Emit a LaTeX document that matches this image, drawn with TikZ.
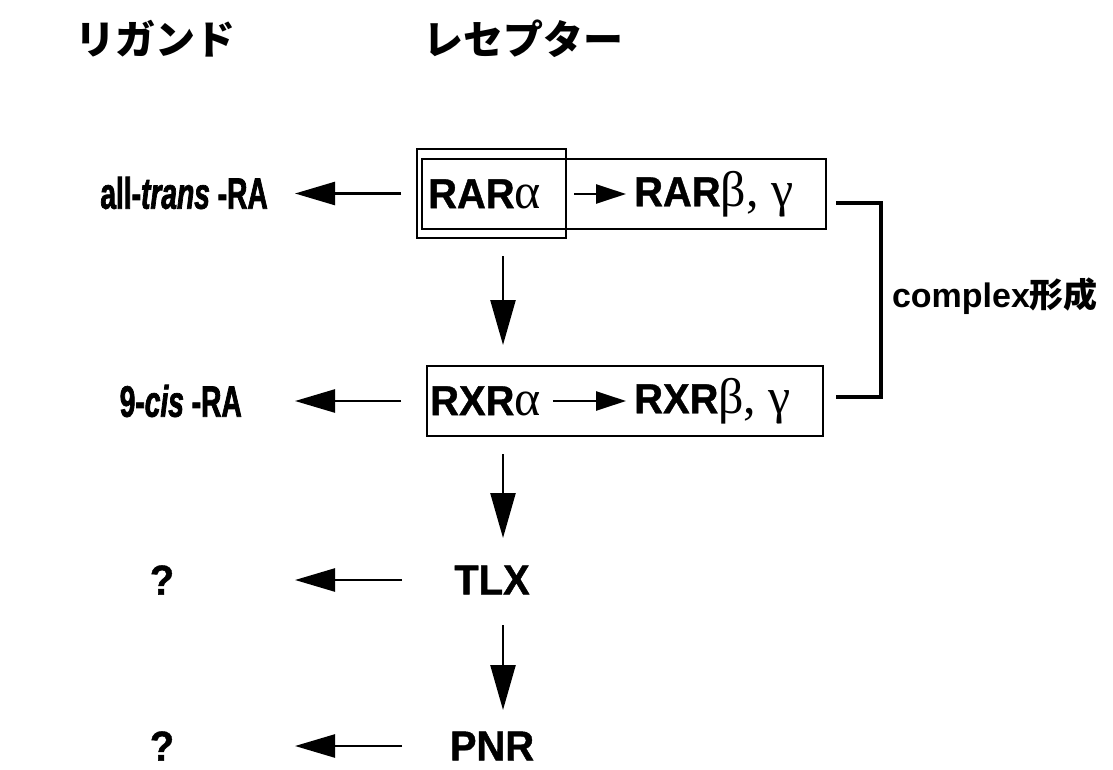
\documentclass[tikz,border=0pt]{standalone}
\usepackage{fontspec}
\setmainfont{Liberation Sans}
\newfontfamily\boxfont{Liberation Sans}[FakeStretch=0.95, FakeBold=1]
\newfontfamily\narrowfont{Liberation Sans}[FakeStretch=0.64, FakeBold=1.6]
\newfontfamily\grk{Liberation Serif}
\newfontfamily\jp{Noto Sans CJK JP}
\usetikzlibrary{arrows.meta}
\newcommand{\gk}[1]{{\grk\mdseries\fontsize{50}{52}\selectfont #1}}
\begin{document}
\begin{tikzpicture}[x=1pt,y=-1pt,
  lbl/.style={inner sep=0pt, font=\fontsize{42}{46}\selectfont\boxfont\bfseries},
  lig/.style={inner sep=0pt, font=\fontsize{44}{48}\selectfont\narrowfont\bfseries},
  ttl/.style={inner sep=0pt, font=\fontsize{40}{44}\selectfont\jp\bfseries},
  cplx/.style={inner sep=0pt, font=\fontsize{34}{38}\selectfont\bfseries},
  frame/.style={draw, line width=2pt, inner sep=0pt},
  bigleft/.style={line width=2.5pt, -{Triangle[length=40pt,width=23pt]}},
  bigdown/.style={line width=2.5pt, -{Triangle[length=45pt,width=25pt]}},
  smallarr/.style={line width=2.5pt, -{Triangle[length=30pt,width=19pt]}},
  bracket/.style={line width=4pt}]
\useasboundingbox (0,0) rectangle (1113,770);

% column headings
\node[ttl] (hlig) at (155,39) {リガンド};
\node[ttl] (hrec) at (523,39) {レセプター};

% receptor frames
\node[frame, minimum width=149pt, minimum height=89pt] (outer) at (491.5,193.5) {};
\node[frame, minimum width=404pt, minimum height=70pt] (rarbox) at (624,194) {};
\node[frame, minimum width=396pt, minimum height=70pt] (rxrbox) at (625,401) {};

% receptor names
\node[lbl, anchor=west] (rara) at (428,194) {RAR\gk{α}};
\node[lbl, anchor=west] (rarbg) at (634,194) {RAR\gk{β, γ}};
\node[lbl, anchor=west] (rxra) at (430,401) {RXR\gk{α}};
\node[lbl, anchor=west] (rxrbg) at (634,401) {RXR\gk{β, γ}};
\node[lbl] (tlx) at (492,580) {TLX};
\node[lbl] (pnr) at (492,746) {PNR};

% ligands
\node[lig, anchor=east] (atra) at (268,193) {all-\textit{trans} -RA};
\node[lig, anchor=east] (cisra) at (242,401) {9-\textit{cis} -RA};
\node[lbl] (q1) at (162,580) {?};
\node[lbl] (q2) at (162,746) {?};

% complex label
\node[cplx] (cx) at (995,296) {complex{\jp\bfseries 形成}};

% vertical axis of the cascade
\coordinate (axis) at (503,0);

% arrows within the boxes
\draw[smallarr, shorten <=7pt, shorten >=8pt] (outer.east |- rara) -- (rarbg.west);
\draw[smallarr, shorten <=12pt, shorten >=8pt] (rxra.east) -- (rxrbg.west);

% receptor to ligand arrows
\draw[bigleft, shorten <=15pt, shorten >=27pt] (outer.west) -- (outer.west -| atra.east);
\draw[bigleft, shorten <=25pt, shorten >=53pt] (rxrbox.west) -- (rxrbox.west -| cisra.east);
\draw[bigleft, shorten <=90pt, shorten >=133pt] (tlx.center) -- (q1.center);
\draw[bigleft, shorten <=90pt, shorten >=133pt] (pnr.center) -- (q2.center);

% downward cascade
\draw[bigdown, shorten <=17pt, shorten >=20pt] (outer.south -| axis) -- (rxrbox.north -| axis);
\draw[bigdown, shorten <=17pt, shorten >=42pt] (rxrbox.south -| axis) -- (tlx.center -| axis);
\draw[bigdown, shorten <=45pt, shorten >=36pt] (tlx.center -| axis) -- (pnr.center -| axis);

% complex bracket
\draw[bracket] ([shift={(9,9)}]rarbox.east) -- ++(45,0) |- ([shift={(12,-4)}]rxrbox.east);
\end{tikzpicture}
\end{document}
